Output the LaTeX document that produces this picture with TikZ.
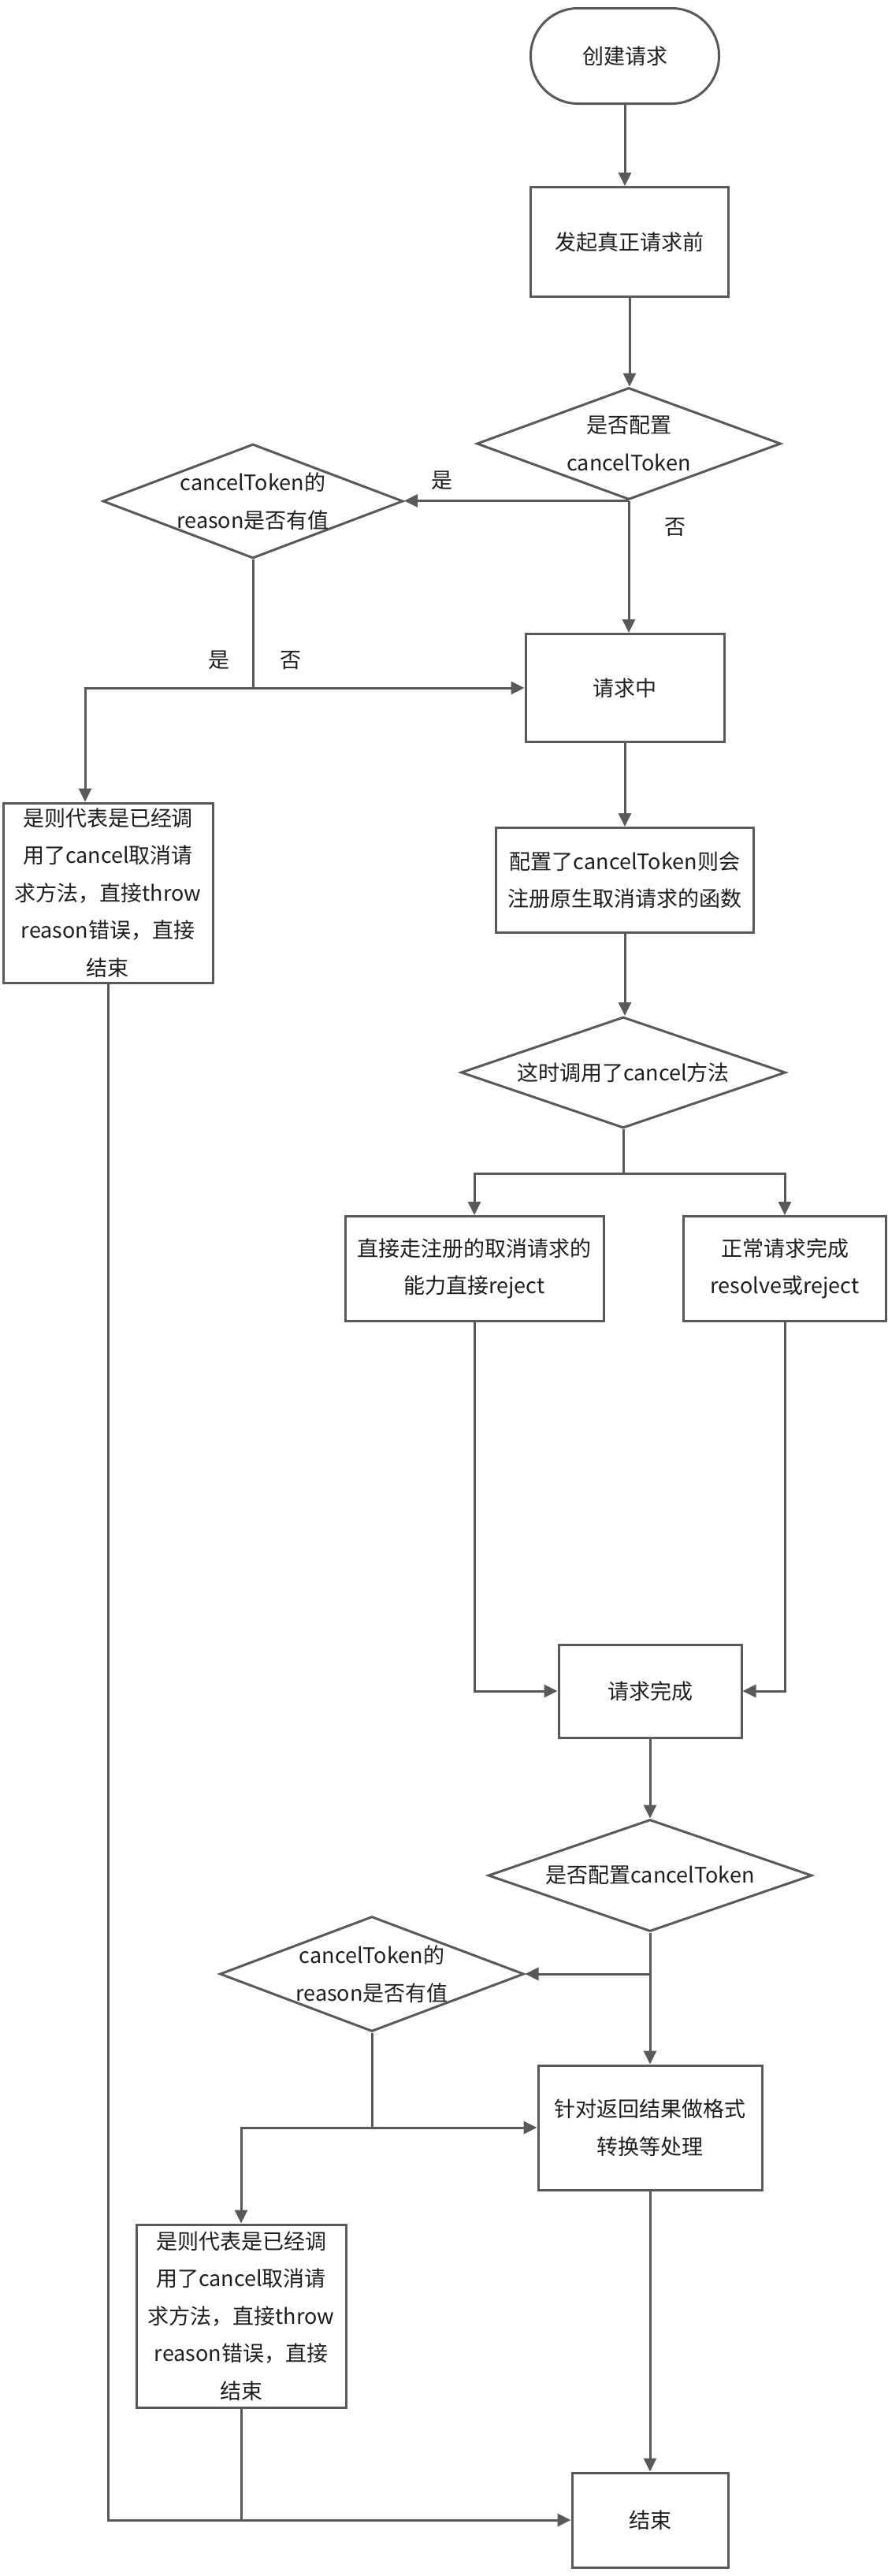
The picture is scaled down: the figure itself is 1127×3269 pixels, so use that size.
\documentclass[tikz,border=0pt]{standalone}
\usepackage{fontspec}
\setmainfont{Noto Sans CJK SC}
\usetikzlibrary{shapes.geometric,arrows.meta,positioning}
\definecolor{lineGray}{HTML}{595959}
\definecolor{textBlack}{HTML}{1E1E1E}

\begin{document}
\begin{tikzpicture}[x=1pt, y=-1pt, line width=3pt,
  font=\fontsize{27}{47.5}\selectfont,
  box/.style = {shape=rectangle, draw=lineGray, align=center,
    text=textBlack, inner sep=2pt},
  size/.style 2 args = {minimum width=#1pt, minimum height=#2pt},
  decision/.style = {shape=diamond, draw=lineGray, inner sep=0pt},
  txt/.style = {align=center, text=textBlack, inner sep=0pt},
  lbl/.style = {text=textBlack, inner sep=0pt},
  flow/.style = {draw=lineGray, -{Triangle[length=17pt,width=16pt]}},
  link/.style = {draw=lineGray}]
  \fill[white] (0,0) rectangle (1127,3269);
  \useasboundingbox (0,0) rectangle (1127,3269);

  % first pass: before the request is sent
  \node[box, size={239}{121}, rounded corners=60pt] (start) at (793,71) {创建请求};
  \node[box, size={251}{139}] (before) at (799,307) {发起真正请求前};
  \node[decision, size={386}{142}] (cfgA) at (798,563) {};
  \node[txt] (cfgAtext) at (cfgA) {是否配置\\cancelToken};
  \node[decision, size={381}{145}] (rsnA) at (321,636) {};
  \node[txt] (rsnAtext) at (rsnA) {cancelToken的\\reason是否有值};
  \node[box, size={252}{137}] (pending) at (793,873) {请求中};
  \node[box, size={266}{228}, inner sep=0pt] (cancelA) at (137,1133)
    {是则代表是已经调\\用了cancel取消请\\求方法，直接throw\\reason错误，直接\\结束};
  \node[box, size={327}{133}] (register) at (793,1117)
    {配置了cancelToken则会\\注册原生取消请求的函数};
  \node[decision, size={412}{141}] (cancelCall) at (791,1361) {};
  \node[txt] (cancelCalltext) at (cancelCall) {这时调用了cancel方法};
  \node[box, size={328}{133}] (rejectA) at (602,1610)
    {直接走注册的取消请求的\\能力直接reject};
  \node[box, size={257}{133}] (normal) at (996,1610) {正常请求完成\\resolve或reject};

  % second pass: after the response
  \node[box, size={232}{118}] (done) at (825,2146) {请求完成};
  \node[decision, size={411}{142}] (cfgB) at (825,2380) {};
  \node[txt] (cfgBtext) at (cfgB) {是否配置cancelToken};
  \node[decision, size={386}{146}] (rsnB) at (472,2505) {};
  \node[txt] (rsnBtext) at (rsnB) {cancelToken的\\reason是否有值};
  \node[box, size={284}{158}] (format) at (825,2700) {针对返回结果做格式\\转换等处理};
  \node[box, size={266}{232}, inner sep=0pt] (cancelB) at (306,2939)
    {是则代表是已经调\\用了cancel取消请\\求方法，直接throw\\reason错误，直接\\结束};
  \node[box, size={198}{120}] (stop) at (825,3198) {结束};

  \draw[flow] (start.south) -- (start.south |- before.north);
  \draw[flow] (before.south) -- (before.south |- cfgA.north);
  \draw[flow] (cfgA.south) -- (cfgA.south -| rsnA.east)
    node[lbl, pos=0.83, above=12pt] (yesA) {是};
  \draw[flow] (cfgA.south) -- (cfgA.south |- pending.north)
    node[lbl, pos=0.2, right=44pt] (noA) {否};
  \draw[flow] (rsnA.south) |- (pending.west);
  \draw[flow] (rsnA.south |- pending.west) -| ([xshift=-29pt]cancelA.north);
  \node[lbl, above left=22pt and 28pt] (yesB) at (rsnA.south |- pending.west) {是};
  \node[lbl, above right=22pt and 33pt] (noB) at (rsnA.south |- pending.west) {否};
  \draw[flow] (pending.south) -- (pending.south |- register.north);
  \draw[flow] (register.south) -- (register.south |- cancelCall.north);
  \draw[flow] (cancelCall.south) -- ++(0,56) -| (rejectA.north);
  \draw[flow] (cancelCall.south) ++(0,56) -| (normal.north);
  \draw[flow] (rejectA.south) |- (done.west);
  \draw[flow] (normal.south) |- (done.east);

  \draw[flow] (done.south) -- (cfgB.north);
  \draw[flow] (cfgB.south) -- (format.north);
  \draw[flow] (cfgB.south |- rsnB.east) -- (rsnB.east);
  \draw[flow] (rsnB.south) |- (format.west);
  \draw[flow] (rsnB.south |- format.west) -| (cancelB.north);
  \draw[flow] (format.south) -- (stop.north);
  \draw[flow] (cancelA.south) |- (stop.west);
  \draw[link] (cancelB.south) -- (cancelB.south |- stop.west);
\end{tikzpicture}
\end{document}
